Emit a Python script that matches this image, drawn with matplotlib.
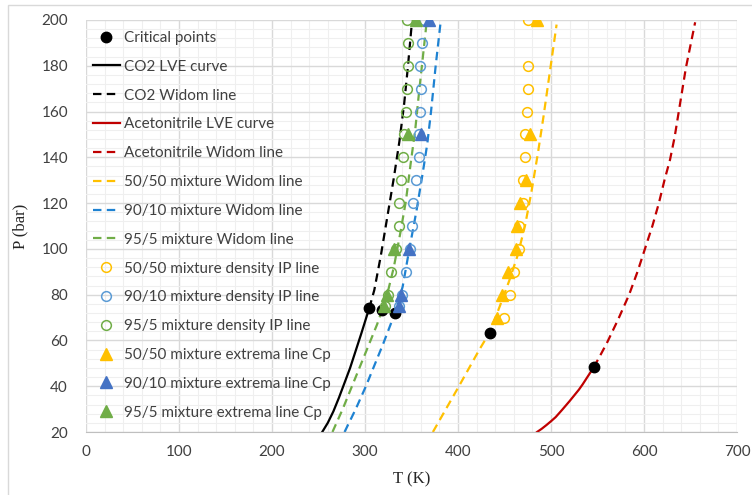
import matplotlib
matplotlib.use("Agg")
import matplotlib.pyplot as plt
from matplotlib.ticker import MultipleLocator
from matplotlib.patches import Rectangle

# ---------------- data ----------------
crit_T = [304.5, 318, 332.6, 434, 546]
crit_P = [74, 73.4, 72, 63.2, 48.3]

co2_lve_T = [254, 260, 266, 272, 278, 284, 290, 296, 301, 304.5]
co2_lve_P = [20, 24, 29, 35, 41.5, 48, 55.5, 63, 69.5, 74]

co2_widom_T = [304.5, 310, 317, 324, 331, 337, 342, 346, 350]
co2_widom_P = [74, 82, 97, 114, 131, 147, 163, 179, 197]

acn_lve_T = [485, 490, 495, 500, 505, 512, 520, 525, 530, 534, 538, 542, 546]
acn_lve_P = [20, 21.4, 23, 24.7, 26.5, 29.7, 33.5, 36, 38.5, 40.8, 43.3, 45.8, 48.3]

acn_widom_T = [546, 553, 560, 572, 584, 593, 601, 609, 616, 622, 628, 633, 637, 641, 645, 650, 655]
acn_widom_P = [48.3, 53.5, 58.8, 69, 80, 90, 100, 110, 120, 130, 139, 149, 159, 169, 179, 189, 199]

w5050_T = [373, 387, 401, 412, 423, 434, 445, 455, 464, 472, 479, 486, 492, 499, 506]
w5050_P = [20, 30, 40, 48, 56, 63.5, 75, 86, 97, 110, 125, 142, 158, 178, 198]

w9010_T = [278, 290, 301, 311, 320, 328, 333, 340.5, 347.5, 355.5, 362, 367, 371, 376, 381]
w9010_P = [20, 30, 40, 50, 59, 67.5, 73, 83.5, 99.5, 117, 133, 146, 160, 180, 198]

w955_T = [265, 276, 287, 297, 306, 313, 319, 325, 331, 338, 344, 349, 354, 358, 362, 366]
w955_P = [20, 30, 41, 51, 60, 67, 74, 82, 92, 107, 121, 137, 152, 168, 183, 198]

ip5050_P = [200, 180, 170, 160, 150, 140, 130, 120, 110, 100, 90, 80, 70]
ip5050_T = [475.7, 475.3, 475.3, 474.6, 472, 471.7, 470, 470, 466, 465.7, 460, 455.6, 449.6]

ip9010_P = [200, 190, 180, 170, 160, 150, 140, 130, 120, 110, 100, 90, 80, 75]
ip9010_T = [363.7, 361.2, 359.4, 360, 359.4, 358, 357.6, 355, 352, 350.5, 348.5, 344, 340, 337]

ip955_P = [200, 190, 180, 170, 160, 150, 140, 130, 120, 110, 100, 90, 80, 75]
ip955_T = [345, 346.6, 345.8, 345, 344, 342, 340.5, 339.2, 336.9, 336.2, 333, 328, 324.5, 321]

cp5050_P = [200, 150, 130, 120, 110, 100, 90, 80, 70]
cp5050_T = [484.6, 477, 473, 467, 463.5, 462, 454, 447, 442.4]

cp9010_P = [200, 150, 100, 80, 75]
cp9010_T = [369, 360.5, 347.6, 338.7, 336.5]

cp955_P = [200, 150, 100, 80, 75]
cp955_T = [354.8, 345.8, 331.5, 323.3, 320.8]

labels = [
    "Critical points", "CO2 LVE curve", "CO2 Widom line",
    "Acetonitrile LVE curve", "Acetonitrile Widom line",
    "50/50 mixture Widom line", "90/10 mixture Widom line", "95/5 mixture Widom line",
    "50/50 mixture density IP line", "90/10 mixture density IP line", "95/5 mixture density IP line",
    "50/50 mixture extrema line Cp", "90/10 mixture extrema line Cp", "95/5 mixture extrema line Cp",
]

# ---------------- styling ----------------
plt.rcParams['font.family'] = ['Lato', 'DejaVu Sans']
YEL = '#FFC000'
BLU_L = '#1E82D2'
BLU_C = '#5B9BD5'
BLU_T = '#4472C4'
GRN = '#70AD47'
RED = '#C00000'
DASH = (0, (3.8, 2.4))
TXT = '#404040'

fig = plt.figure(figsize=(7.52, 4.95), dpi=100)
ax = fig.add_axes([86/752, 1 - 432/495, (737-86)/752, (432-20)/495])

fig.patches.append(Rectangle((8/752, -0.05), 1.1, (495-5)/495 + 0.05, transform=fig.transFigure,
                             fill=False, edgecolor='#d9d9d9', lw=1.0))

lw = 1.6
ms_c = 7
ms_t = 8

h = []
h.append(ax.plot(crit_T, crit_P, 'o', color='black', ms=7.5, zorder=3, label=labels[0])[0])
h.append(ax.plot(co2_lve_T, co2_lve_P, '-', color='black', lw=lw, zorder=2, label=labels[1])[0])
h.append(ax.plot(co2_widom_T, co2_widom_P, linestyle=DASH, color='black', lw=lw, zorder=2, label=labels[2])[0])
h.append(ax.plot(acn_lve_T, acn_lve_P, '-', color=RED, lw=lw, zorder=2, label=labels[3])[0])
h.append(ax.plot(acn_widom_T, acn_widom_P, linestyle=DASH, color=RED, lw=lw, zorder=2, label=labels[4])[0])
h.append(ax.plot(w5050_T, w5050_P, linestyle=DASH, color=YEL, lw=lw, zorder=2, label=labels[5])[0])
h.append(ax.plot(w9010_T, w9010_P, linestyle=DASH, color=BLU_L, lw=lw, zorder=2, label=labels[6])[0])
h.append(ax.plot(w955_T, w955_P, linestyle=DASH, color=GRN, lw=lw, zorder=2, label=labels[7])[0])
h.append(ax.plot(ip5050_T, ip5050_P, 'o', mfc='none', mec=YEL, mew=1.1, ms=ms_c, zorder=4, label=labels[8])[0])
h.append(ax.plot(ip9010_T, ip9010_P, 'o', mfc='none', mec=BLU_C, mew=1.1, ms=ms_c, zorder=4, label=labels[9])[0])
h.append(ax.plot(ip955_T, ip955_P, 'o', mfc='none', mec=GRN, mew=1.1, ms=ms_c, zorder=4, label=labels[10])[0])
h.append(ax.plot(cp5050_T, cp5050_P, '^', color=YEL, ms=ms_t, zorder=5, label=labels[11])[0])
h.append(ax.plot(cp9010_T, cp9010_P, '^', color=BLU_T, ms=ms_t, zorder=5, label=labels[12])[0])
h.append(ax.plot(cp955_T, cp955_P, '^', color=GRN, ms=ms_t, zorder=5, label=labels[13])[0])

ax.set_xlim(0, 700)
ax.set_ylim(20, 200)
ax.xaxis.set_major_locator(MultipleLocator(100))
ax.xaxis.set_minor_locator(MultipleLocator(20))
ax.yaxis.set_major_locator(MultipleLocator(20))
ax.yaxis.set_minor_locator(MultipleLocator(4))
ax.grid(which='major', color='#d9d9d9', lw=1.0, zorder=0)
ax.grid(which='minor', color='#efefef', lw=0.8, zorder=0)
ax.set_axisbelow(True)
for s in ['top', 'right', 'left']:
    ax.spines[s].set_visible(False)
ax.spines['bottom'].set_color('#bfbfbf')
ax.tick_params(which='both', length=0)
ax.tick_params(axis='x', pad=9, labelsize=11, labelcolor=TXT)
ax.tick_params(axis='y', pad=13, labelsize=11, labelcolor=TXT)

ax.set_xlabel('T (K)', family='Liberation Serif', fontsize=12, labelpad=9, color='#262626')
ax.set_ylabel('P (bar)', family='Liberation Serif', fontsize=12, labelpad=9, color='#262626')

leg = ax.legend(handles=h, loc='upper left', bbox_to_anchor=(93/752, 1 - 31/495),
                bbox_transform=fig.transFigure, frameon=False, fontsize=11,
                labelspacing=0.97, handlelength=1.76, handletextpad=0.28,
                borderaxespad=0, borderpad=0)
for t in leg.get_texts():
    t.set_color(TXT)

fig.savefig('out.png', dpi=100)
